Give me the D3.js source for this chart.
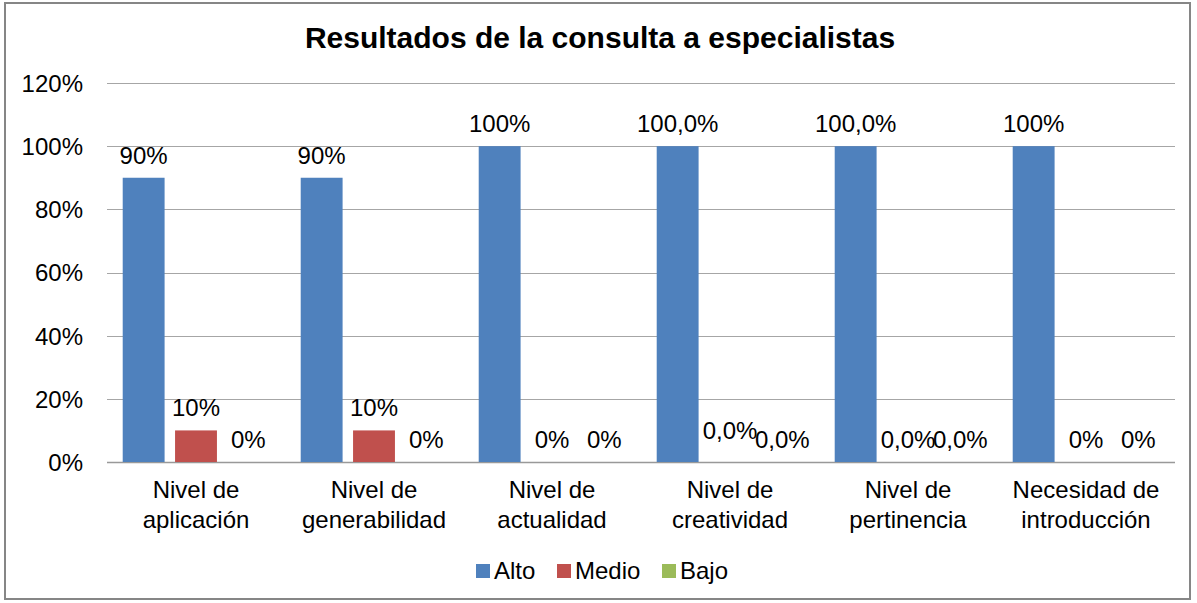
<!DOCTYPE html>
<html>
<head>
<meta charset="utf-8">
<script src="https://cdn.jsdelivr.net/npm/d3@7"></script>
<style>
  body { margin: 0; background: #fff; }
  svg text { font-family: "Liberation Sans", Arial, sans-serif; fill: #000; }
</style>
</head>
<body>
<div id="chart"></div>
<script>
// data
var categories = [["Nivel de", "aplicación"], ["Nivel de", "generabilidad"], ["Nivel de", "actualidad"],
                  ["Nivel de", "creatividad"], ["Nivel de", "pertinencia"], ["Necesidad de", "introducción"]];
var seriesNames = ["Alto", "Medio", "Bajo"];
var alto  = [0.9, 0.9, 1, 1, 1, 1];
var medio = [0.1, 0.1, 0, 0, 0, 0];
var bajo  = [0, 0, 0, 0, 0, 0];
var altoLabels  = ["90%", "90%", "100%", "100,0%", "100,0%", "100%"];
var medioLabels = ["10%", "10%", "0%", "0,0%", "0,0%", "0%"];
var bajoLabels  = ["0%", "0%", "0%", "0,0%", "0,0%", "0%"];
var yTicks = [0, 0.2, 0.4, 0.6, 0.8, 1, 1.2];
var colors = ["#4F81BD", "#C0504D", "#9BBB59"];

var W = 1197, H = 603;
var margin = {top: 83, right: 22, bottom: 141, left: 107};

var svg = d3.select("#chart").append("svg")
    .attr("width", W)
    .attr("height", H);

// outer frame
svg.append("rect")
    .attr("x", 5).attr("y", 3)
    .attr("width", 1185).attr("height", 596)
    .attr("fill", "#fff")
    .attr("stroke", "#868686")
    .attr("stroke-width", 2);

svg.append("text")
    .attr("x", 600).attr("y", 48)
    .attr("text-anchor", "middle")
    .style("font-size", "30px")
    .style("font-weight", "bold")
    .text("Resultados de la consulta a especialistas");

var g = svg.append("g")
    .attr("transform", "translate(" + margin.left + "," + margin.top + ")");

var width = W - margin.left - margin.right,
    height = H - margin.top - margin.bottom;

var x0 = d3.scaleBand().domain(d3.range(categories.length)).range([0, width]);
var x1 = d3.scaleBand().domain(seriesNames).range([0, x0.bandwidth()])
    .paddingInner(0.2).paddingOuter(0.3);
var y = d3.scaleLinear().domain([0, 1.2]).range([height, 0]);

// gridlines
g.append("g")
  .selectAll("line")
  .data(yTicks)
  .enter().append("line")
    .attr("x1", 0).attr("x2", width)
    .attr("y1", function(d) { return Math.round(y(d)) + 0.5; })
    .attr("y2", function(d) { return Math.round(y(d)) + 0.5; })
    .attr("stroke", function(d) { return d === 0 ? "#999" : "#a6a6a6"; })
    .attr("stroke-width", function(d) { return d === 0 ? 1.5 : 1; });

// y axis labels
var yAxis = g.append("g")
    .call(d3.axisLeft(y).tickValues(yTicks).tickSize(0).tickPadding(24)
      .tickFormat(function(d) { return Math.round(d * 100) + "%"; }));
yAxis.select(".domain").remove();
yAxis.selectAll("text").style("font-size", "24px").attr("dy", "0.35em");

var series = [
  {name: "Alto", values: alto, labels: altoLabels},
  {name: "Medio", values: medio, labels: medioLabels},
  {name: "Bajo", values: bajo, labels: bajoLabels}
];

series.forEach(function(s, si) {
  g.append("g").selectAll("rect")
      .data(s.values)
    .enter().append("rect")
      .attr("x", function(d, i) { return x0(i) + x1(s.name); })
      .attr("y", function(d) { return y(d); })
      .attr("width", x1.bandwidth())
      .attr("height", function(d) { return height - y(d); })
      .attr("fill", colors[si]);

  g.append("g").selectAll("text")
      .data(s.values)
    .enter().append("text")
      .attr("x", function(d, i) { return x0(i) + x1(s.name) + x1.bandwidth() / 2; })
      // the 0,0% of Medio in "creatividad" sits a little higher in the original
      .attr("y", function(d, i) { return y(d) - 14 - (s.name === "Medio" && i === 3 ? 9 : 0); })
      .attr("text-anchor", "middle")
      .style("font-size", "24px")
      .text(function(d, i) { return s.labels[i]; });
});

// category labels
var xl = g.append("g").selectAll("text")
    .data(categories)
  .enter().append("text")
    .attr("x", function(d, i) { return x0(i) + x0.bandwidth() / 2; })
    .attr("y", height + 36)
    .attr("text-anchor", "middle")
    .style("font-size", "24px");
xl.append("tspan")
    .attr("x", function(d, i) { return x0(i) + x0.bandwidth() / 2; })
    .text(function(d) { return d[0]; });
xl.append("tspan")
    .attr("x", function(d, i) { return x0(i) + x0.bandwidth() / 2; })
    .attr("dy", 30)
    .text(function(d) { return d[1]; });

// legend
var legendX = [476, 557, 662];
var legend = svg.append("g").selectAll("g")
    .data(seriesNames)
  .enter().append("g")
    .attr("transform", function(d, i) { return "translate(" + legendX[i] + ",571)"; });
legend.append("rect")
    .attr("x", 0).attr("y", -7)
    .attr("width", 14).attr("height", 14)
    .attr("fill", function(d, i) { return colors[i]; });
legend.append("text")
    .attr("x", 18).attr("y", 0)
    .attr("dy", "0.35em")
    .style("font-size", "24px")
    .text(function(d) { return d; });
</script>
</body>
</html>
